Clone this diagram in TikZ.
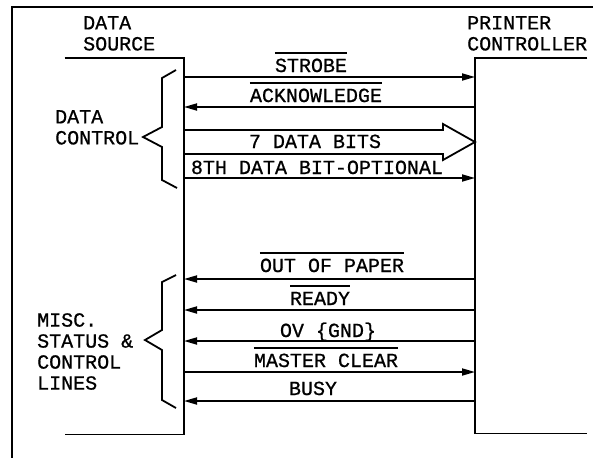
\documentclass[tikz,border=0pt]{standalone}
\usepackage{fontspec}
\newfontfamily\letterfont{Liberation Mono}[FakeBold=0.8]
\usetikzlibrary{arrows.meta}

% active-low signal names carry a bar over the text
\newcommand{\ovl}[1]{\vbox{\hrule height 1.4pt\kern 5pt\hbox{#1}}}

\begin{document}
\begin{tikzpicture}[x=1pt, y=-1pt,
    wire/.style={line width=1.8pt},
    sigr/.style={wire, -{Triangle[length=13pt,width=7pt]}},
    sigl/.style={wire, {Triangle[length=13pt,width=7pt]}-},
    unit/.style={rectangle, inner sep=0pt},
    lbl/.style={font=\fontsize{20}{21}\selectfont\letterfont, inner sep=0pt, anchor=base},
    title/.style={font=\fontsize{20}{21}\selectfont\letterfont, inner sep=0pt,
                  anchor=north west, align=left},
  ]
    \useasboundingbox (0,0) rectangle (593,458);

    % outer frame
    \draw[wire] (593,7) -- (12,7) -- (12,458);

    % the two units
    \node[unit, minimum width=119pt, minimum height=376pt, anchor=north east] (src) at (184,58) {};
    \node[unit, minimum width=112pt, minimum height=375pt, anchor=north west] (ctl) at (475,58) {};
    \draw[wire] (src.north west) -- (src.north east) -- (src.south east) -- (src.south west);
    \draw[wire] (ctl.north east) -- (ctl.north west) -- (ctl.south west) -- (ctl.south east);

    \node[title] (srcname) at (83,16) {DATA\\SOURCE};
    \node[title] (ctlname) at (467,16) {PRINTER\\CONTROLLER};

    % data control lines
    \draw[sigr] (src.east |- 0,77) -- (ctl.west |- 0,77);
    \node[lbl] (strobe) at (311,72) {\ovl{STROBE}};
    \draw[sigl] (src.east |- 0,107) -- (ctl.west |- 0,107);
    \node[lbl] (ack) at (316,102) {\ovl{ACKNOWLEDGE}};
    \draw[wire, line join=miter] (src.east |- 0,130) -- (443,130) -- (443,124)
      -- (ctl.west |- 0,142) -- (443,160) -- (443,154) -- (src.east |- 0,154);
    \node[lbl] (bits) at (315,148) {7 DATA BITS};
    \draw[sigr] (src.east |- 0,178) -- (ctl.west |- 0,178);
    \node[lbl] (bit8) at (317,174) {8TH DATA BIT-OPTIONAL};

    % status and control lines
    \draw[sigl] (src.east |- 0,279) -- (ctl.west |- 0,279);
    \node[lbl] (paper) at (332,272) {\ovl{OUT OF PAPER}};
    \draw[sigl] (src.east |- 0,310) -- (ctl.west |- 0,310);
    \node[lbl] (ready) at (320,305) {\ovl{READY}};
    \draw[sigl] (src.east |- 0,341) -- (ctl.west |- 0,341);
    \node[lbl] (gnd) at (328,337) {OV \{GND\}};
    \draw[sigr] (src.east |- 0,372) -- (ctl.west |- 0,372);
    \node[lbl] (clear) at (326,367) {\ovl{MASTER CLEAR}};
    \draw[sigl] (src.east |- 0,401) -- (ctl.west |- 0,401);
    \node[lbl] (busy) at (313,395) {BUSY};

    % braces grouping the lines
    \draw[wire] (176,70) -- (162,78) -- (162,127) -- (143,137) -- (162,147)
      -- (162,180) -- (177,188);
    \node[title] (datactl) at (55,110) {DATA\\CONTROL};
    \draw[wire] (176,275) -- (162,282) -- (162,330) -- (145,340) -- (162,350)
      -- (162,400) -- (176,408);
    \node[title] (misc) at (37,313) {MISC.\\STATUS \&\\CONTROL\\LINES};
  \end{tikzpicture}
\end{document}
